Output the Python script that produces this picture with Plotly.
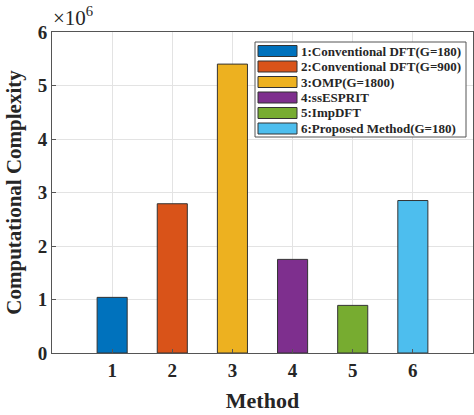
import plotly.graph_objects as go

# Complexity of each estimation method
methods = [1, 2, 3, 4, 5, 6]
complexity = [1.04e6, 2.79e6, 5.40e6, 1.75e6, 0.89e6, 2.85e6]
names = [
    "1:Conventional DFT(G=180)",
    "2:Conventional DFT(G=900)",
    "3:OMP(G=1800)",
    "4:ssESPRIT",
    "5:ImpDFT",
    "6:Proposed Method(G=180)",
]
colors = ["#0072BD", "#D95319", "#EDB120", "#7E2F8E", "#77AC30", "#4DBEEE"]
y_ticks = [0, 1, 2, 3, 4, 5, 6]
scale = 1e6

FONT = "Liberation Serif"

fig = go.Figure()
for m, v, n, c in zip(methods, complexity, names, colors):
    fig.add_trace(go.Bar(
        x=[m], y=[v / scale], name=n, width=0.5,
        marker=dict(color=c, line=dict(color="#333333", width=1)),
        showlegend=False,
    ))

fig.update_layout(
    width=474, height=415,
    margin=dict(l=52, r=1, t=32, b=62),
    plot_bgcolor="white", paper_bgcolor="white",
    font=dict(family=FONT, color="#262626"),
    barmode="overlay",
    showlegend=False,
)
fig.update_xaxes(
    range=[0, 7], tickvals=methods, ticktext=[str(m) for m in methods],
    showgrid=True, gridcolor="#e3e3e3", gridwidth=1,
    showline=True, linecolor="#555555", linewidth=1, mirror=True,
    ticks="inside", ticklen=4, tickcolor="#555555",
    tickfont=dict(family=FONT, size=19, color="#262626", weight="bold"),
    title=dict(text="<b>Method</b>", font=dict(family=FONT, size=22, color="#262626"), standoff=12),
    zeroline=False,
)
fig.update_yaxes(
    range=[0, 6], tickvals=y_ticks, ticktext=[str(t) for t in y_ticks],
    showgrid=True, gridcolor="#e3e3e3", gridwidth=1,
    showline=True, linecolor="#555555", linewidth=1, mirror=True,
    ticks="inside", ticklen=4, tickcolor="#555555",
    tickfont=dict(family=FONT, size=19, color="#262626", weight="bold"),
    title=dict(text="<b>Computational Complexity</b>", font=dict(family=FONT, size=21, color="#262626"), standoff=10),
    zeroline=False,
)

# exponent label above the y axis
fig.add_annotation(
    xref="paper", yref="paper", x=0.0, y=1.0, xanchor="left", yanchor="bottom",
    text="×10<sup>6</sup>", showarrow=False, yshift=0, xshift=-1,
    font=dict(family=FONT, size=21, color="#262626"),
)

# legend box with wide colour swatches
px_w, px_h = 474 - 52 - 1, 415 - 32 - 62
def px_x(x):
    return (x - 52) / px_w
def px_y(y):
    return 1 - (y - 32) / px_h

fig.add_shape(type="rect", xref="paper", yref="paper",
              x0=px_x(255), x1=px_x(466), y0=px_y(137), y1=px_y(42),
              line=dict(color="#555555", width=1), fillcolor="white", layer="above")
row0, row_step = 51, 15.5
for i, (n, c) in enumerate(zip(names, colors)):
    yc = row0 + i * row_step
    fig.add_shape(type="rect", xref="paper", yref="paper",
                  x0=px_x(258), x1=px_x(297), y0=px_y(yc + 5.5), y1=px_y(yc - 5.5),
                  line=dict(color="#333333", width=1), fillcolor=c, layer="above")
    fig.add_annotation(xref="paper", yref="paper", x=px_x(299), y=px_y(yc),
                       xanchor="left", yanchor="middle", showarrow=False,
                       text="<b>" + n + "</b>",
                       font=dict(family=FONT, size=13, color="#262626"))

fig.write_html("out.html")
